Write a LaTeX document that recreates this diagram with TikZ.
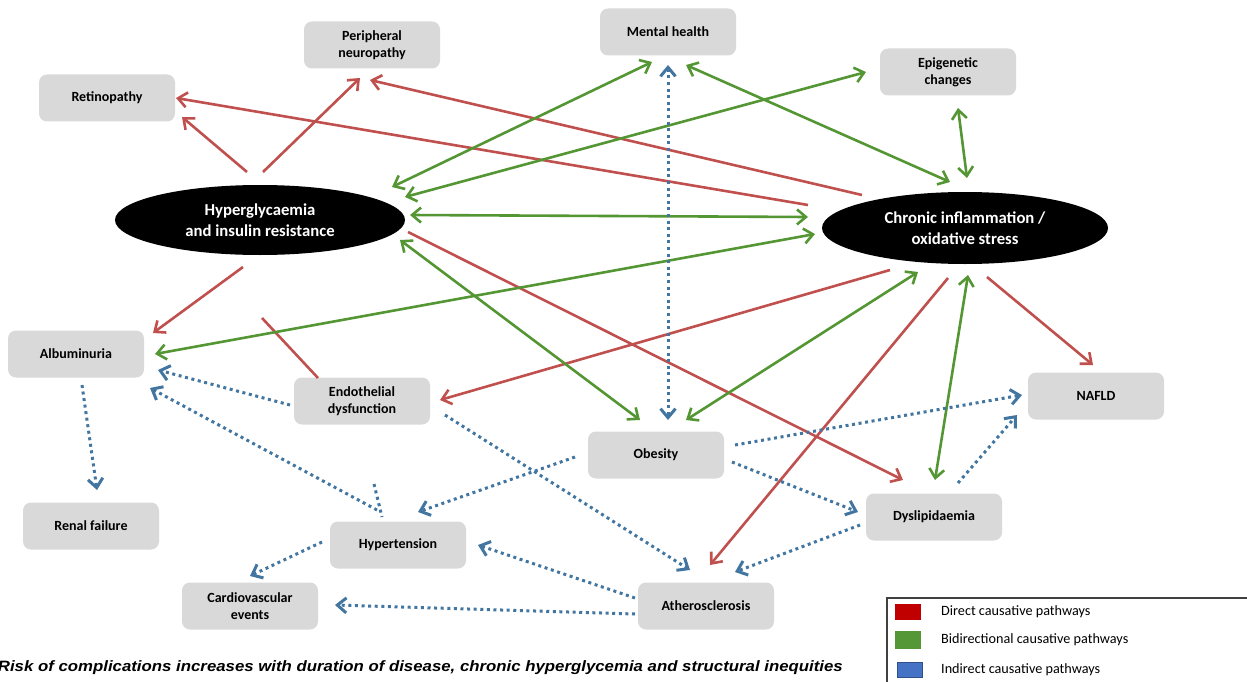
\documentclass[tikz,border=0pt]{standalone}
\usepackage{fontspec}
\usepackage{graphicx}
\setmainfont{Carlito}
\newfontfamily\arialfont{Liberation Sans}
\usetikzlibrary{arrows.meta,shapes.geometric}
\definecolor{redline}{RGB}{192,80,77}
\definecolor{greenline}{RGB}{84,150,52}
\definecolor{blueline}{RGB}{66,118,160}
\definecolor{boxgray}{RGB}{217,217,217}
\definecolor{legred}{RGB}{192,0,0}
\definecolor{leggreen}{RGB}{85,150,55}
\definecolor{legblue}{RGB}{68,114,196}
\tikzset{
  gbox/.style={draw=none,fill=boxgray,rounded corners=8pt,minimum width=136pt,minimum height=47pt,inner sep=0pt,align=center,font=\fontsize{14}{17}\selectfont\bfseries},
  bigell/.style={ellipse,fill=black,text=white,inner sep=0pt,align=center,font=\fontsize{16.7}{21}\selectfont\bfseries},
  tipb/.tip={Straight Barb[length=9pt,width=15pt]},
  redarr/.style={draw=redline,line width=2.6pt,-tipb},
  redln/.style={draw=redline,line width=2.6pt},
  greenarr/.style={draw=greenline,line width=2.6pt,tipb-tipb},
  bluedot/.style={draw=blueline,line width=3pt,dash pattern=on 3pt off 3.6pt},
  bluearr/.style={bluedot,-tipb},
  legtext/.style={anchor=west,inner sep=0pt,font=\fontsize{14.2}{17}\selectfont},
}
\begin{document}
\begin{tikzpicture}[x=1pt,y=-1pt]
\useasboundingbox (0,0) rectangle (1247,682);
% nodes
\node[gbox] (neuro) at (372,45) {Peripheral\\neuropathy};
\node[gbox] (mental) at (668,32) {Mental health};
\node[gbox] (retino) at (107,98) {Retinopathy};
\node[gbox] (epi) at (948,72) {Epigenetic\\changes};
\node[bigell,minimum width=290pt,minimum height=70pt] (hyper) at (260,220) {Hyperglycaemia\\and insulin resistance};
\node[bigell,minimum width=286pt,minimum height=72pt] (chronic) at (965,228) {Chronic inflammation /\\oxidative stress};
\node[gbox] (alb) at (76,354) {Albuminuria};
\node[gbox] (endo) at (362,401) {Endothelial\\dysfunction};
\node[gbox] (nafld) at (1096,396) {NAFLD};
\node[gbox] (obes) at (656,455) {Obesity};
\node[gbox] (renal) at (91,526) {Renal failure};
\node[gbox] (dysl) at (934,517) {Dyslipidaemia};
\node[gbox] (hypt) at (398,545) {Hypertension};
\node[gbox] (cardio) at (250,606) {Cardiovascular\\events};
\node[gbox] (ather) at (706,606) {Atherosclerosis};
% red direct
\draw[redarr] ([shift={(-13,-48)}]hyper.center) -- ([shift={(75,19)}]retino.center);
\draw[redarr] ([shift={(3,-48)}]hyper.center) -- ([shift={(-12,33)}]neuro.center);
\draw[redarr] ([shift={(-157,-23)}]chronic.center) -- ([shift={(69,0)}]retino.center);
\draw[redarr] ([shift={(-103,-33)}]chronic.center) -- ([shift={(-2,35)}]neuro.center);
\draw[redarr] ([shift={(-17,47)}]hyper.center) -- ([shift={(77,-21)}]alb.center);
\draw[redln] ([shift={(-44,-23)}]endo.center) -- ([shift={(2,98)}]hyper.center);
\draw[redarr] ([shift={(148,12)}]hyper.center) -- ([shift={(-31,-37)}]dysl.center);
\draw[redarr] ([shift={(-75,42)}]chronic.center) -- ([shift={(78,-1)}]endo.center);
\draw[redarr] ([shift={(-17,50)}]chronic.center) -- ([shift={(4,-41)}]ather.center);
\draw[redarr] ([shift={(22,49)}]chronic.center) -- ([shift={(-3,-31)}]nafld.center);
% green bidirectional
\draw[greenarr] ([shift={(132,-33)}]hyper.center) -- ([shift={(-16,30)}]mental.center);
\draw[greenarr] ([shift={(145,-23)}]hyper.center) -- ([shift={(-82,0)}]epi.center);
\draw[greenarr] ([shift={(150,-5)}]hyper.center) -- ([shift={(-157,-11)}]chronic.center);
\draw[greenarr] ([shift={(79,0)}]alb.center) -- ([shift={(-150,6)}]chronic.center);
\draw[greenarr] ([shift={(140,20)}]hyper.center) -- ([shift={(-16,-35)}]obes.center);
\draw[greenarr] ([shift={(18,33)}]mental.center) -- ([shift={(-15,-46)}]chronic.center);
\draw[greenarr] ([shift={(10,36)}]epi.center) -- ([shift={(2,-50)}]chronic.center);
\draw[greenarr] ([shift={(-47,44)}]chronic.center) -- ([shift={(30,-35)}]obes.center);
\draw[greenarr] ([shift={(3,47)}]chronic.center) -- ([shift={(1,-37)}]dysl.center);
% blue indirect
\draw[bluedot,tipb-tipb] ([shift={(0,33)}]mental.center) -- ([shift={(12,-35)}]obes.center);
\draw[bluearr] ([shift={(6,31)}]alb.center) -- ([shift={(6,-36)}]renal.center);
\draw[bluearr] ([shift={(-72,4)}]endo.center) -- ([shift={(82,16)}]alb.center);
\draw[bluearr] ([shift={(-21,-35)}]hypt.center) -- ([shift={(74,34)}]alb.center);
\draw[bluedot] ([shift={(-24,-61)}]hypt.center) -- ([shift={(-16,-28)}]hypt.center);
\draw[bluearr] ([shift={(-81,2)}]obes.center) -- ([shift={(20,-33)}]hypt.center);
\draw[bluearr] ([shift={(83,14)}]endo.center) -- ([shift={(-16,-36)}]ather.center);
\draw[bluearr] ([shift={(79,-10)}]obes.center) -- ([shift={(-74,-1)}]nafld.center);
\draw[bluearr] ([shift={(76,7)}]obes.center) -- ([shift={(-76,-5)}]dysl.center);
\draw[bluearr] ([shift={(24,-34)}]dysl.center) -- ([shift={(-79,19)}]nafld.center);
\draw[bluearr] ([shift={(-74,8)}]dysl.center) -- ([shift={(29,-34)}]ather.center);
\draw[bluearr] ([shift={(-71,-8)}]ather.center) -- ([shift={(80,0)}]hypt.center);
\draw[bluearr] ([shift={(-76,-3)}]hypt.center) -- ([shift={(0,-30)}]cardio.center);
\draw[bluearr] ([shift={(-71,8)}]ather.center) -- ([shift={(85,-1)}]cardio.center);
% caption
\node[anchor=base east,inner sep=0pt,font=\arialfont\fontsize{15}{18}\selectfont\bfseries\itshape] (caption) at (843,671) {\scalebox{1.12}[1]{Risk of complications increases with duration of disease, chronic hyperglycemia and structural inequities}};
% legend
\draw[draw=black!75,line width=1.2pt] (887,598) rectangle (1260,700);
\node[fill=legred,minimum width=26pt,minimum height=16pt,inner sep=0pt] (lr) at (908,612) {};
\node[fill=leggreen,minimum width=26pt,minimum height=18pt,inner sep=0pt] (lg) at (908,640) {};
\node[fill=legblue,draw=legblue!70!black,line width=0.8pt,minimum width=25pt,minimum height=15pt,inner sep=0pt] (lb) at (910,670) {};
\node[legtext] (tr) at (941,612) {Direct causative pathways};
\node[legtext] (tg) at (941,640) {Bidirectional causative pathways};
\node[legtext] (tb) at (941,670) {Indirect causative pathways};
\end{tikzpicture}
\end{document}
